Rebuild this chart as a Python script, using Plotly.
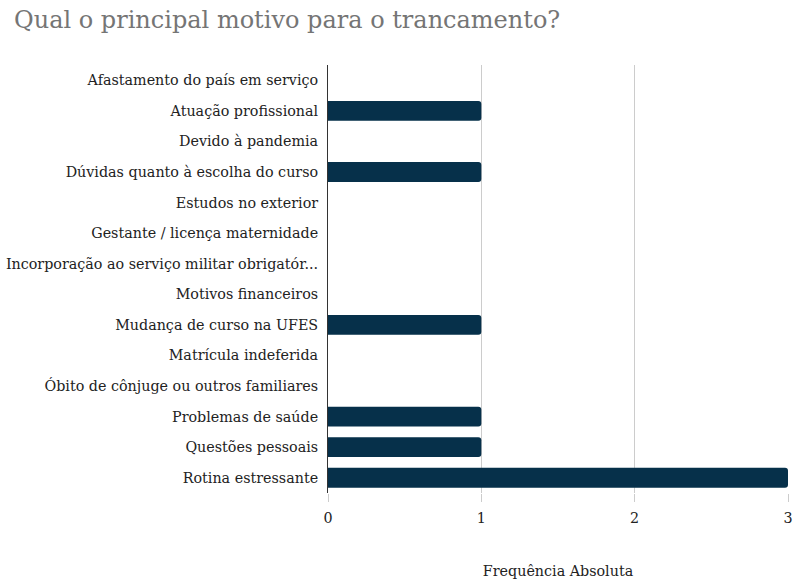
import plotly.graph_objects as go

categories = [
    "Afastamento do país em serviço",
    "Atuação profissional",
    "Devido à pandemia",
    "Dúvidas quanto à escolha do curso",
    "Estudos no exterior",
    "Gestante / licença maternidade",
    "Incorporação ao serviço militar obrigatór...",
    "Motivos financeiros",
    "Mudança de curso na UFES",
    "Matrícula indeferida",
    "Óbito de cônjuge ou outros familiares",
    "Problemas de saúde",
    "Questões pessoais",
    "Rotina estressante",
]
values = [0, 1, 0, 1, 0, 0, 0, 0, 1, 0, 0, 1, 1, 3]
tick_vals = [0, 1, 2, 3]

FONT = "DejaVu Serif"
FS = 14.3

fig = go.Figure(go.Bar(
    x=values, y=categories, orientation="h",
    marker=dict(color="#06304a", line=dict(width=0)),
))

fig.update_layout(
    width=793, height=580,
    paper_bgcolor="white", plot_bgcolor="white",
    margin=dict(l=328, r=5, t=65, b=87, autoexpand=False),
    bargap=0.35,
    barcornerradius=3,
    showlegend=False,
    font=dict(family=FONT, size=FS, color="#222222"),
    title=dict(text="Qual o principal motivo para o trancamento?",
               x=14 / 793, xanchor="left", y=1 - 20 / 580, yanchor="middle",
               font=dict(family=FONT, size=24, color="#757575")),
)
fig.update_xaxes(
    automargin=False,
    range=[0, 3], tickvals=tick_vals, showgrid=True, gridcolor="#cccccc", gridwidth=1,
    zeroline=False, ticks="outside", ticklen=8, tickcolor="#cccccc",
    ticklabelstandoff=4,
    tickfont=dict(family=FONT, size=FS, color="#222222"),
    title=dict(text="Frequência Absoluta", font=dict(family=FONT, size=FS, color="#222222"), standoff=40),
)
fig.update_yaxes(
    automargin=False,
    autorange="reversed", showline=True, linecolor="#333333", linewidth=1,
    ticks="", ticklabelstandoff=6,
)

fig.write_html(
    "out.html",
    config={"displayModeBar": False},
    post_script="document.body.style.margin='0';document.body.style.overflow='hidden';",
)
